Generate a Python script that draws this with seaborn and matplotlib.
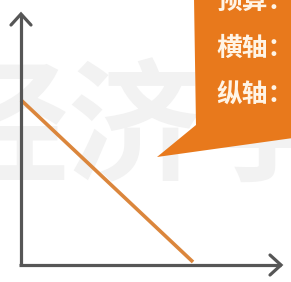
import matplotlib
matplotlib.use('Agg')
import matplotlib.pyplot as plt
from matplotlib.patches import Polygon
import pandas as pd
import seaborn as sns

# data: straight downward sloping line (units = pixels from the origin)
line_x = [0, 172]
line_y = [165, 3]
callout_labels = ['预算：', '横轴：', '纵轴：']
watermark = '经济学'

sns.set_theme(style='white')
plt.rcParams['font.family'] = ['Noto Sans CJK SC', 'DejaVu Sans']

AXIS_COLOR = '#565656'
LINE_COLOR = '#DB863C'
BOX_COLOR = '#E8791C'

W, H = 291, 282
fig = plt.figure(figsize=(W / 100, H / 100), dpi=100)
fig.patch.set_facecolor('white')

# background layer in pixel coords (watermark + callout)
bg = fig.add_axes([0, 0, 1, 1])
bg.set_xlim(0, W)
bg.set_ylim(H, 0)
bg.axis('off')
bg.text(135, 132, watermark, fontsize=96, fontweight='bold', color='#F2F2F2',
        ha='center', va='center', zorder=0)

# main chart axes: origin at pixel (21, 265)
ox, oy = 21, 265
ax = fig.add_axes([ox / W, (H - oy) / H, (W - ox) / W, oy / H])
ax.patch.set_alpha(0)
ax.set_xlim(0, W - ox)
ax.set_ylim(0, oy)

df = pd.DataFrame({'x': line_x, 'y': line_y})
sns.lineplot(data=df, x='x', y='y', ax=ax, color=LINE_COLOR, linewidth=2.6,
             solid_capstyle='butt', clip_on=False, zorder=3)

# axes with open arrowheads
ax.plot([0, 0], [0, oy - 14], color=AXIS_COLOR, lw=2.3, clip_on=False,
        solid_capstyle='butt', zorder=4)
ax.plot([-10, 0, 10], [oy - 25, oy - 14, oy - 25], color=AXIS_COLOR, lw=2.3,
        clip_on=False, solid_joinstyle='miter', zorder=4)
ax.plot([-1.5, W - ox - 10], [0, 0], color=AXIS_COLOR, lw=2.3, clip_on=False,
        solid_capstyle='butt', zorder=4)
ax.plot([W - ox - 21, W - ox - 10, W - ox - 21], [10, 0, -10], color=AXIS_COLOR,
        lw=2.3, clip_on=False, solid_joinstyle='miter', zorder=4)
ax.set_xticks([])
ax.set_yticks([])
sns.despine(ax=ax, left=True, bottom=True)
ax.set_xlabel('')
ax.set_ylabel('')

# orange speech-bubble callout
box = Polygon([(194, -2), (196, 125), (157, 157), (293, 138), (293, -2)],
              closed=True, facecolor=BOX_COLOR, edgecolor='none', zorder=2)
bg.add_patch(box)
for i, lab in enumerate(callout_labels):
    bg.text(216, 1 + i * 47, lab, fontsize=18.5, fontweight='bold', color='#FFF4E6',
            ha='left', va='center', zorder=5)

fig.savefig('out.png', dpi=100)
